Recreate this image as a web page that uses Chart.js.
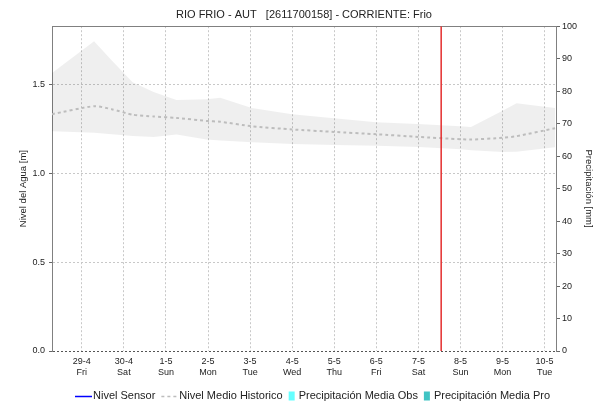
<!DOCTYPE html>
<html><head><meta charset="utf-8">
<script src="https://cdn.jsdelivr.net/npm/chart.js@4/dist/chart.umd.min.js"></script>
<style>html,body{margin:0;padding:0;background:#fff}</style>
</head><body>
<canvas id="c" width="598" height="402"></canvas>
<script>
// ---- data ----
const dayLabels = ['29-4','30-4','1-5','2-5','3-5','4-5','5-5','6-5','7-5','8-5','9-5','10-5'];
const weekdayLabels = ['Fri','Sat','Sun','Mon','Tue','Wed','Thu','Fri','Sat','Sun','Mon','Tue'];
const leftTickValues = [0, 0.5, 1.0, 1.5];
// hours relative to 29-4 00:00
const histHours = [-17, 7, 17, 29, 41, 54, 71, 79, 97, 120, 144, 168, 192, 216, 222, 240, 248, 270];
const histUpper = [1.564, 1.744, 1.637, 1.513, 1.458, 1.412, 1.417, 1.425, 1.367, 1.333, 1.310, 1.288, 1.277, 1.265, 1.260, 1.352, 1.395, 1.367];
const histMean  = [1.333, 1.378, 1.361, 1.330, 1.320, 1.312, 1.295, 1.290, 1.265, 1.247, 1.233, 1.220, 1.205, 1.192, 1.190, 1.200, 1.209, 1.254];
const histLower = [1.237, 1.228, 1.220, 1.210, 1.205, 1.218, 1.190, 1.185, 1.175, 1.165, 1.160, 1.155, 1.148, 1.135, 1.130, 1.120, 1.122, 1.147];
const sensorLevel = [];
const precipObs = [];
const precipPro = [];
const nowHour = 205;
const xMin = -17, xMax = 270.5;
const yMax = 1.828, y2Max = 100;

const pts = (xs, ys) => xs.map((x, i) => ({x, y: ys[i]}));
const FONT = '"Liberation Sans", Arial, sans-serif';

const legendPlugin = {
  id: 'customLegend',
  afterDraw(chart) {
    const ctx = chart.ctx;
    ctx.save();
    ctx.font = '11px ' + FONT;
    ctx.textBaseline = 'middle';
    const y = 396;
    let x = 75;
    chart.data.datasets.filter(d => d.legendPos !== undefined)
      .sort((a, b) => a.legendPos - b.legendPos).forEach(d => {
      if (d.legendKind === 'line') {
        ctx.strokeStyle = d.borderColor;
        ctx.lineWidth = d.legendLineWidth || 1.5;
        ctx.setLineDash(d.borderDash || []);
        ctx.beginPath(); ctx.moveTo(x, y + 0.5); ctx.lineTo(x + 17, y + 0.5); ctx.stroke();
        ctx.setLineDash([]);
        x += 18;
      } else {
        ctx.fillStyle = d.backgroundColor;
        ctx.fillRect(x, y - 4.5, 6, 9);
        x += 10;
      }
      ctx.fillStyle = '#222';
      ctx.fillText(d.label, x, y);
      x += ctx.measureText(d.label).width + 6;
    });
    ctx.restore();
  }
};

new Chart(document.getElementById('c'), {
  data: {
    datasets: [
      { type: 'line', label: 'now', data: [{x: nowHour, y: 0}, {x: nowHour, y: yMax}],
        borderColor: 'rgb(228,45,45)', borderWidth: 1.5, pointRadius: 0, yAxisID: 'y', xAxisID: 'x' },
      { type: 'line', label: 'Nivel Medio Historico', data: pts(histHours, histMean),
        borderColor: '#bdbdbd', borderWidth: 2, borderDash: [3, 3], pointRadius: 0, tension: 0.2,
        legendPos: 1, legendKind: 'line', legendLineWidth: 1.5, yAxisID: 'y' },
      { type: 'line', label: 'Nivel Sensor', data: sensorLevel, borderColor: '#0000ff', borderWidth: 1.5,
        pointRadius: 0, legendPos: 0, legendKind: 'line', yAxisID: 'y' },
      { type: 'bar', label: 'Precipitación Media Obs', data: precipObs, backgroundColor: '#66ffff',
        legendPos: 2, legendKind: 'rect', yAxisID: 'y2' },
      { type: 'bar', label: 'Precipitación Media Pro', data: precipPro, backgroundColor: '#40c4c4',
        legendPos: 3, legendKind: 'rect', yAxisID: 'y2' },
      { type: 'line', label: 'upper', data: pts(histHours, histUpper), borderWidth: 0, pointRadius: 0,
        backgroundColor: 'rgba(0,0,0,0.062)', fill: '+1', yAxisID: 'y' },
      { type: 'line', label: 'lower', data: pts(histHours, histLower), borderWidth: 0, pointRadius: 0,
        backgroundColor: 'rgba(0,0,0,0)', fill: false, yAxisID: 'y' }
    ]
  },
  options: {
    responsive: false, animation: false, devicePixelRatio: 1,
    layout: { padding: { left: 0, right: 0, top: 0, bottom: 21 } },
    plugins: {
      legend: { display: false },
      tooltip: { enabled: false },
      title: { display: true, fullSize: false, text: 'RIO FRIO - AUT   [2611700158] - CORRIENTE: Frio',
        color: '#222', font: { family: FONT, size: 11, weight: 'normal', lineHeight: 1.2 },
        padding: { top: 8, bottom: 5 } }
    },
    scales: {
      x: { type: 'linear', position: 'bottom', min: xMin, max: xMax, offset: false,
        afterBuildTicks: s => { s.ticks = dayLabels.map((_, i) => ({ value: i * 24 })); },
        afterFit: s => { s.height = 30; },
        ticks: { autoSkip: false, maxRotation: 0, padding: 5, color: '#222',
          font: { family: FONT, size: 9, lineHeight: 1.2 },
          callback: v => { const i = Math.round(v / 24); return [dayLabels[i], weekdayLabels[i]]; } },
        grid: { color: '#c8c8c8', drawTicks: false, lineWidth: 1, offset: false },
        border: { display: false, dash: [2, 2] } },
      xTop: { type: 'linear', position: 'top', min: xMin, max: xMax, offset: false,
        afterFit: s => { s.height = 0; },
        ticks: { display: false }, grid: { display: false, offset: false },
        border: { display: true, color: '#808080', width: 1 } },
      y: { type: 'linear', position: 'left', min: 0, max: yMax,
        afterBuildTicks: s => { s.ticks = leftTickValues.map(v => ({ value: v })); },
        afterFit: s => { s.width = 52; },
        ticks: { padding: 4, color: '#222', font: { family: FONT, size: 9 }, callback: v => v.toFixed(1) },
        grid: { color: c => (c.tick && c.tick.value === 0) ? '#555' : '#c8c8c8', tickLength: 3,
          tickColor: '#666', tickBorderDash: [1, 0] },
        border: { display: true, color: '#808080', dash: [2, 2] },
        title: { display: true, text: 'Nivel del Agua [m]', color: '#222',
          font: { family: FONT, size: 9.5 }, padding: { top: 18, bottom: 0 } } },
      y2: { type: 'linear', position: 'right', min: 0, max: y2Max,
        afterFit: s => { s.width = 42; },
        ticks: { stepSize: 10, padding: 2, color: '#222', font: { family: FONT, size: 9 } },
        grid: { drawOnChartArea: false, tickLength: 4, tickColor: '#666' },
        border: { display: true, color: '#808080' },
        title: { display: true, text: 'Precipitación [mm]', color: '#222',
          font: { family: FONT, size: 9.5 }, padding: { top: 4, bottom: 0 } } }
    }
  },
  plugins: [legendPlugin]
});
</script>
</body></html>
